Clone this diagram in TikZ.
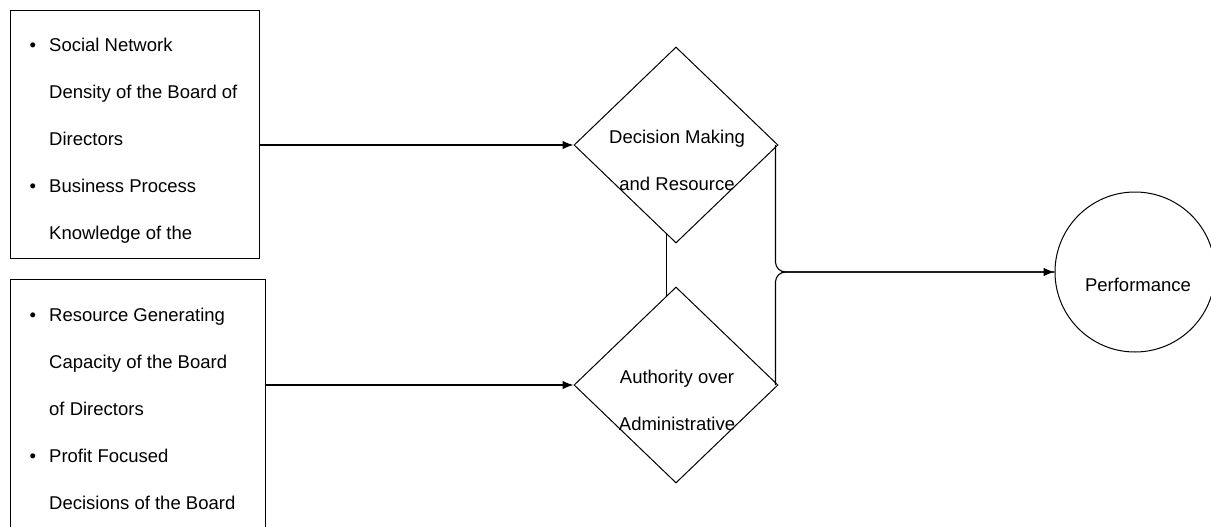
\documentclass[tikz,border=0pt]{standalone}
\usepackage{fontspec}
\setmainfont{Liberation Sans}
\usetikzlibrary{shapes.geometric,arrows.meta,positioning}

\tikzset{
  itembox/.style={draw,rectangle,line width=1pt,inner sep=0pt,anchor=north west},
  itemtext/.style={align=left,inner sep=0pt,anchor=north west},
  choice/.style={draw,diamond,line width=1pt,inner sep=0pt,minimum width=204pt,minimum height=196pt},
  choicetext/.style={align=center,inner sep=0pt},
  goal/.style={draw,circle,line width=1pt,inner sep=0pt,minimum size=160pt},
  link/.style={line width=1.1pt,-{Latex[length=11pt,width=8.5pt]}}
}
\newcommand{\itemdot}{\llap{\textbullet\hspace{13pt}}}

\begin{document}
\begin{tikzpicture}[x=1pt,y=-1pt,font=\fontsize{18.5}{47}\selectfont]
\useasboundingbox (0,0) rectangle (1211,527);
\node[itembox,minimum width=249pt,minimum height=248pt] (box1) at (10,10) {};
\node[itembox,minimum width=255pt,minimum height=252pt] (box2) at (10,279) {};
\node[itemtext] (list1) at (49,38) {\itemdot Social Network\\ Density of the Board of\\ Directors\\ \itemdot Business Process\\ Knowledge of the};
\node[itemtext] (list2) at (49,308) {\itemdot Resource Generating\\ Capacity of the Board\\ of Directors\\ \itemdot Profit Focused\\ Decisions of the Board};
\node[choice] (d1) at (676,145) {};
\node[choice] (d2) at (676,385) {};
\node[choicetext] (d1text) at (677,160) {Decision Making\\ and Resource};
\node[choicetext] (d2text) at (677,400) {Authority over\\ Administrative};
\node[goal] (perf) at (1135,272) {};
\node (perftext) at (1138,285) {Performance};
\draw[link] (box1.east |- d1.west) -- (d1.west);
\draw[link] (box2.east |- d2.west) -- (d2.west);
\draw[line width=1pt] (d1.264) -- (d2.96);
\draw[link,rounded corners=10pt] ([xshift=-3pt]d1.east) |- (perf.west);
\draw[line width=1.1pt,rounded corners=10pt] ([xshift=-3pt]d2.east) |- (perf.west);
\end{tikzpicture}
\end{document}
